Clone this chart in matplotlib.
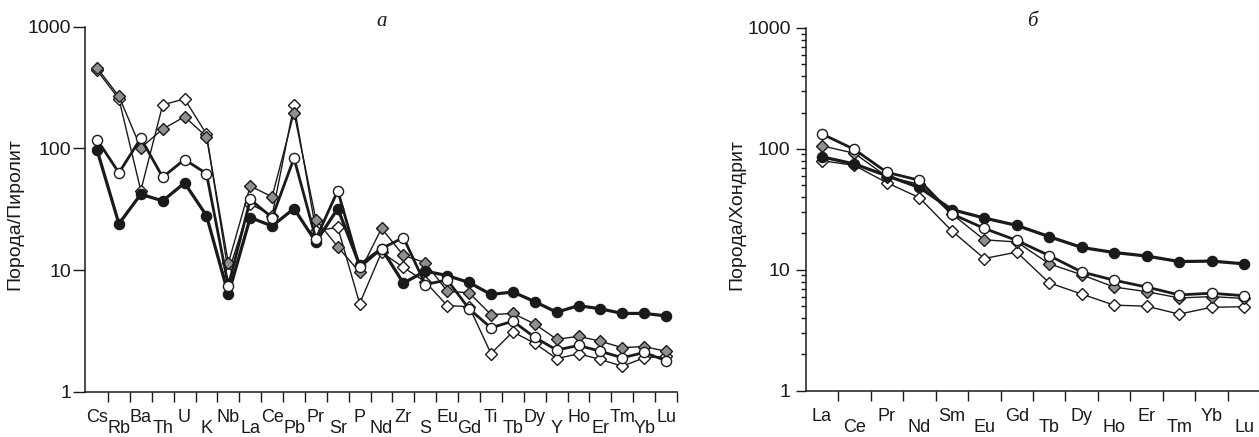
import matplotlib
matplotlib.use("Agg")
import matplotlib.pyplot as plt
import numpy as np

# ---------------- data ----------------
elements_a = ["Cs", "Rb", "Ba", "Th", "U", "K", "Nb", "La", "Ce", "Pb", "Pr", "Sr", "P",
              "Nd", "Zr", "S", "Eu", "Gd", "Ti", "Tb", "Dy", "Y", "Ho", "Er", "Tm", "Yb", "Lu"]
a_filled_circle = [97, 24, 42, 37, 52, 28, 6.3, 27, 23, 32, 17, 32, 11, 15, 7.8, 9.8, 9.0,
                   7.9, 6.3, 6.6, 5.5, 4.5, 5.1, 4.8, 4.4, 4.4, 4.2]
a_open_circle = [118, 63, 121, 58, 81, 62, 7.4, 38, 27, 83, 18, 45, 10.5, 15, 18.5, 7.6, 8.3,
                 4.8, 3.35, 3.8, 2.8, 2.2, 2.4, 2.15, 1.9, 2.1, 1.8]
a_gray_diamond = [459, 268, 101, 144, 182, 125, 11.4, 49, 40, 196, 26, 15.5, 9.6, 22, 13.2,
                  11.5, 6.7, 6.5, 4.3, 4.4, 3.6, 2.7, 2.85, 2.6, 2.3, 2.35, 2.15]
a_open_diamond = [437, 255, 45, 228, 255, 131, 9.5, 35, 28, 228, 21, 22.4, 5.3, 14, 10.5, 8.0,
                  5.1, 5.0, 2.06, 3.1, 2.5, 1.87, 2.05, 1.84, 1.62, 1.9, 1.95]

elements_b = ["La", "Ce", "Pr", "Nd", "Sm", "Eu", "Gd", "Tb", "Dy", "Ho", "Er", "Tm", "Yb", "Lu"]
b_filled_circle = [86, 75, 60, 48, 31.5, 26.8, 23.3, 18.8, 15.3, 13.9, 13.0, 11.7, 11.8, 11.2]
b_open_circle = [133, 99, 64, 55, 29, 22, 17.5, 13.1, 9.6, 8.2, 7.2, 6.2, 6.4, 6.1]
b_gray_diamond = [106, 92, 59, 51, 29, 17.7, 17, 11.2, 9.1, 7.2, 6.6, 5.85, 6.0, 5.8]
b_open_diamond = [80, 73, 52.5, 39.5, 21, 12.4, 14, 7.8, 6.3, 5.1, 5.0, 4.3, 4.9, 4.95]

ylabel_a = "Порода/Пиролит"
ylabel_b = "Порода/Хондрит"
title_a = "а"
title_b = "б"

# ---------------- style ----------------
plt.rcParams["font.family"] = ["Liberation Sans", "DejaVu Sans"]
INK = "#1a1a1a"
GRAY = "#8f8f8f"

W, H = 1259, 437
fig = plt.figure(figsize=(W / 100, H / 100), dpi=100)

def px_axes(x0, y_top, x1, y_bot):
    return fig.add_axes([x0 / W, 1 - y_bot / H, (x1 - x0) / W, (y_bot - y_top) / H])

ax_a = px_axes(85, 26.7, 677, 391.7)
ax_b = px_axes(806, 28.0, 1259, 390.7)

series_style = [
    # (key, marker, facecolor, linewidth, markersize, zorder)
    ("open_diamond", "D", "white", 1.0, 6.4, 2),
    ("gray_diamond", "D", GRAY, 1.0, 6.4, 3),
    ("filled_circle", "o", INK, 2.3, 7.3, 4),
    ("open_circle", "o", "white", 2.0, 7.3, 5),
]

data_a = {"filled_circle": a_filled_circle, "open_circle": a_open_circle,
          "gray_diamond": a_gray_diamond, "open_diamond": a_open_diamond}
data_b = {"filled_circle": b_filled_circle, "open_circle": b_open_circle,
          "gray_diamond": b_gray_diamond, "open_diamond": b_open_diamond}


def draw(ax, elements, data, xlim, ytick_len, ytick_pad, minor):
    x = np.arange(len(elements))
    for key, mk, fc, lw, ms, z in series_style:
        ax.plot(x, data[key], color=INK, lw=lw, marker=mk, markersize=ms,
                markerfacecolor=fc, markeredgecolor=INK, markeredgewidth=1.0,
                zorder=z, clip_on=False)
    ax.set_yscale("log")
    ax.set_ylim(1, 1000)
    ax.set_xlim(*xlim)
    for s in ("top", "right"):
        ax.spines[s].set_visible(False)
    for s in ("left", "bottom"):
        ax.spines[s].set_color(INK)
        ax.spines[s].set_linewidth(1.1)
    ax.set_yticks([1, 10, 100, 1000])
    ax.set_yticklabels(["1", "10", "100", "1000"])
    if minor:
        ax.yaxis.set_minor_locator(matplotlib.ticker.LogLocator(base=10, subs=np.arange(2, 10)))
        ax.yaxis.set_minor_formatter(matplotlib.ticker.NullFormatter())
        ax.tick_params(axis="y", which="minor", length=3.6, width=1.0, color=INK)
    else:
        ax.yaxis.set_minor_locator(matplotlib.ticker.NullLocator())
    ax.tick_params(axis="y", which="major", length=ytick_len, width=1.0, color=INK,
                   pad=ytick_pad, labelsize=14, labelcolor=INK)
    ticks = [i + 0.5 for i in range(len(elements)) if i + 0.5 <= xlim[1] + 1e-6]
    ax.set_xticks(ticks)
    ax.set_xticklabels([])
    ax.xaxis.set_minor_locator(matplotlib.ticker.NullLocator())
    ax.tick_params(axis="x", which="major", length=7.2, width=1.0, color=INK)
    for i, el in enumerate(elements):
        off = -21.6 if i % 2 == 0 else -30.0
        ax.annotate(el, xy=(i, 0), xycoords=("data", "axes fraction"),
                    xytext=(0, off), textcoords="offset points",
                    ha="center", va="baseline", fontsize=13, color=INK,
                    annotation_clip=False)


draw(ax_a, elements_a, data_a, (-0.55, 26.5), 8.6, 1.5, False)
draw(ax_b, elements_b, data_b, (-0.49, 13.46), 7.5, 3.6, True)

fig.text(14.5 / W, 1 - 214 / H, ylabel_a, rotation=90, ha="center", va="center",
         fontsize=14, color=INK)
fig.text(737 / W, 1 - 215 / H, ylabel_b, rotation=90, ha="center", va="center",
         fontsize=14, color=INK)
fig.text(382 / W, 1 - 22 / H, title_a, ha="center", va="center", fontsize=15,
         family="Liberation Serif", style="italic", color=INK)
fig.text(1032 / W, 1 - 21 / H, title_b, ha="center", va="center", fontsize=15,
         family="Liberation Serif", style="italic", color=INK)

fig.savefig("out.png", dpi=100)
